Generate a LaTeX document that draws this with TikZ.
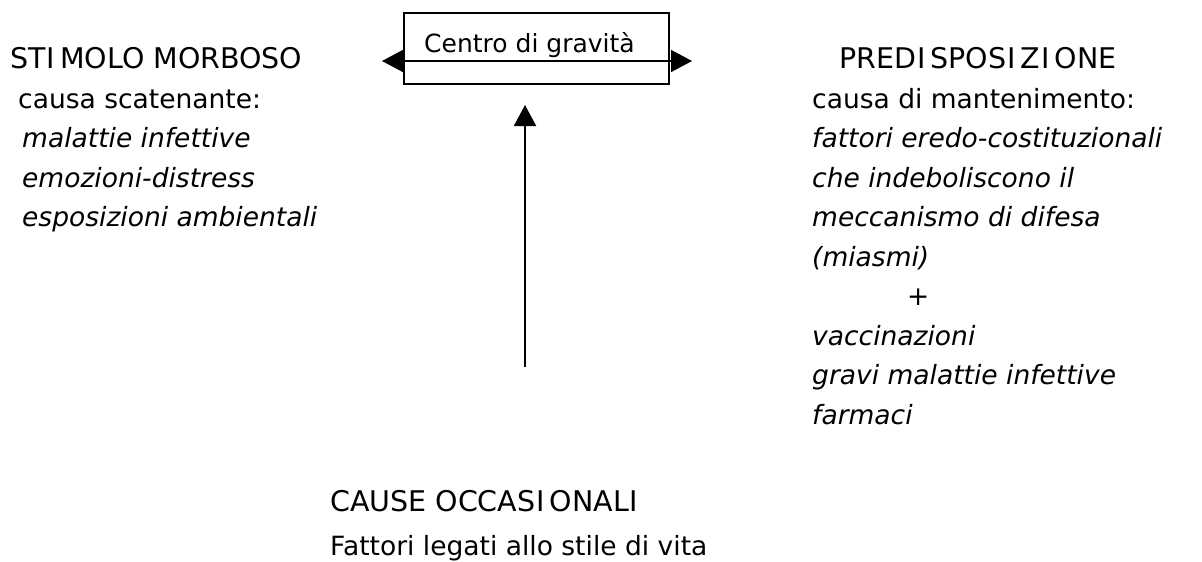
\documentclass[tikz,border=0pt]{standalone}
\usepackage{fontspec}
\setmainfont{DejaVu Sans}
\usetikzlibrary{arrows.meta}
\newcommand\gI{\kern1pt I\kern5pt}
\begin{document}
\begin{tikzpicture}[x=1pt,y=-1pt,
  txt/.style={anchor=base west, inner sep=0pt, font=\fontsize{26.5}{30}\selectfont},
  captxt/.style={anchor=base west, inner sep=0pt, font=\fontsize{28.5}{30}\selectfont},
  itl/.style={anchor=base west, inner sep=0pt, font=\fontsize{26.5}{30}\selectfont\itshape},
  arr/.style={-{Triangle[length=21pt,width=22pt]}, line width=2pt},
  boxst/.style={draw, line width=1.5pt, anchor=north west, inner sep=0pt}]
\useasboundingbox (0,0) rectangle (1202,562);
% box
\node[boxst, minimum width=265pt, minimum height=71pt] (box) at (403,12) {};
\node[anchor=base west, inner sep=0pt, font=\fontsize{25}{28}\selectfont] (cg) at (424,52) {Centro di gravità};
\coordinate (hl) at (382,61);
\coordinate (hr) at (692,61);
\draw[{Triangle[length=21pt,width=22pt]}-{Triangle[length=21pt,width=22pt]}, line width=1.5pt] (hl) -- (hr);
% vertical arrow
\coordinate (vb) at (525,367);
\coordinate (vt) at (525,105);
\draw[arr] (vb) -- (vt);
% left column
\node[captxt] (sm) at (10,68) {ST\gI MOLO MORBOSO};
\node[txt] (cs) at (18,108) {causa scatenante:};
\node[itl] (l1) at (22,147.5) {malattie infettive};
\node[itl] (l2) at (22,187) {emozioni-distress};
\node[itl] (l3) at (22,226.5) {esposizioni ambientali};
% right column
\node[captxt] (pr) at (839,68) {PRED\gI SPOS\gI Z\gI ONE};
\node[txt] (cm) at (812,108) {causa di mantenimento:};
\node[itl] (r1) at (812,147.5) {fattori eredo-costituzionali};
\node[itl] (r2) at (812,187) {che indeboliscono il};
\node[itl] (r3) at (812,226.5) {meccanismo di difesa};
\node[itl] (r4) at (812,266) {(miasmi)};
\node[itl] (r5) at (907,305.5) {+};
\node[itl] (r6) at (812,345) {vaccinazioni};
\node[itl] (r7) at (812,384.5) {gravi malattie infettive};
\node[itl] (r8) at (812,424) {farmaci};
% bottom
\node[captxt] (co) at (330,511) {CAUSE OCCAS\gI ONAL\gI};
\node[txt] (fl) at (330,555) {Fattori legati allo stile di vita};
\end{tikzpicture}
\end{document}
